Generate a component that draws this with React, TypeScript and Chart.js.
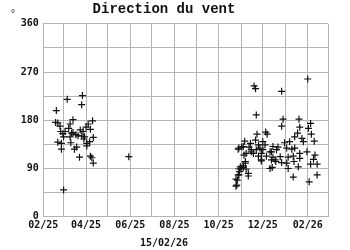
import React, { useEffect, useRef } from 'react';
import { Chart, registerables } from 'chart.js';

Chart.register(...registerables);

const TITLE = 'Direction du vent';
const SUBTITLE = '15/02/26';
const UNIT = '°';
const START = '2025-02-01';
const END = '2026-03-01';
const Y_MAX = 360;
const Y_STEP = 45;
const Y_LABEL_EVERY = 90;

const springDates = [
  '2025-02-18', '2025-02-19', '2025-02-21', '2025-02-21', '2025-02-24', '2025-02-25',
  '2025-02-26', '2025-02-26', '2025-02-28', '2025-03-01', '2025-03-01', '2025-03-03',
  '2025-03-06', '2025-03-08', '2025-03-10', '2025-03-10', '2025-03-11', '2025-03-12',
  '2025-03-14', '2025-03-14', '2025-03-16', '2025-03-18', '2025-03-19', '2025-03-21',
  '2025-03-23', '2025-03-24', '2025-03-26', '2025-03-26', '2025-03-27', '2025-03-28',
  '2025-03-29', '2025-03-30', '2025-04-01', '2025-04-02', '2025-04-02', '2025-04-04',
  '2025-04-06', '2025-04-07', '2025-04-07', '2025-04-09', '2025-04-10', '2025-04-11',
  '2025-04-11', '2025-05-30',
];
const springValues = [
  176, 198, 175, 139, 169, 159,
  137, 126, 155, 149, 50, 159,
  219, 165, 173, 149, 138, 156,
  181, 157, 126, 153, 130, 151,
  111, 162, 151, 209, 226, 159,
  145, 149, 167, 137, 132, 173,
  140, 163, 113, 110, 179, 148,
  100, 112,
];

const winterDates = [
  '2025-10-25', '2025-10-25', '2025-10-26', '2025-10-27', '2025-10-28', '2025-10-28',
  '2025-10-29', '2025-10-29', '2025-10-29', '2025-10-30', '2025-10-31', '2025-11-01',
  '2025-11-02', '2025-11-04', '2025-11-04', '2025-11-04', '2025-11-05', '2025-11-06',
  '2025-11-07', '2025-11-07', '2025-11-08', '2025-11-08', '2025-11-11', '2025-11-11',
  '2025-11-12', '2025-11-14', '2025-11-15', '2025-11-15', '2025-11-18', '2025-11-19',
  '2025-11-21', '2025-11-21', '2025-11-22', '2025-11-22', '2025-11-23', '2025-11-25',
  '2025-11-25', '2025-11-27', '2025-11-29', '2025-11-29', '2025-11-29', '2025-12-01',
  '2025-12-01', '2025-12-04', '2025-12-05', '2025-12-06', '2025-12-07', '2025-12-11',
  '2025-12-11', '2025-12-13', '2025-12-13', '2025-12-14', '2025-12-15', '2025-12-15',
  '2025-12-18', '2025-12-19', '2025-12-20', '2025-12-22', '2025-12-25', '2025-12-27',
  '2025-12-27', '2025-12-27', '2025-12-29', '2025-12-31', '2026-01-03', '2026-01-03',
  '2026-01-05', '2026-01-05', '2026-01-07', '2026-01-10', '2026-01-12', '2026-01-12',
  '2026-01-13', '2026-01-14', '2026-01-14', '2026-01-18', '2026-01-19', '2026-01-20',
  '2026-01-21', '2026-01-21', '2026-01-21', '2026-01-24', '2026-01-26', '2026-01-31',
  '2026-02-01', '2026-02-02', '2026-02-03', '2026-02-05', '2026-02-05', '2026-02-06',
  '2026-02-09', '2026-02-10', '2026-02-11', '2026-02-14', '2026-02-14',
];
const winterValues = [
  70, 57, 59, 68, 78, 126,
  128, 89, 78, 84, 93, 90,
  130, 92, 95, 131, 115, 141,
  103, 100, 89, 118, 76, 81,
  130, 137, 125, 121, 118, 244,
  239, 143, 190, 125, 154, 113,
  134, 128, 106, 118, 104, 140,
  125, 134, 158, 113, 154, 121,
  90, 106, 121, 92, 131, 111,
  106, 103, 125, 130, 112, 234,
  169, 101, 182, 138, 128, 100,
  111, 90, 140, 126, 113, 74,
  103, 149, 128, 156, 93, 182,
  167, 118, 109, 146, 140, 121,
  257, 165, 65, 174, 98, 154,
  107, 141, 115, 98, 78,
];

const DAY = 86400000;
const t0 = Date.parse(START);
const toDay = (d: string) => (Date.parse(d) - t0) / DAY;

function monthTicks() {
  const res: { value: number; label: string }[] = [];
  const s = new Date(START);
  const e = Date.parse(END);
  let y = s.getUTCFullYear();
  let m = s.getUTCMonth();
  while (true) {
    const t = Date.UTC(y, m, 1);
    if (t > e) break;
    const mm = String(m + 1).padStart(2, '0');
    const yy = String(y % 100).padStart(2, '0');
    res.push({ value: (t - t0) / DAY, label: m % 2 === 1 ? `${mm}/${yy}` : '' });
    m++;
    if (m > 11) { m = 0; y++; }
  }
  return res;
}

const unitPlugin = {
  id: 'unitLabel',
  afterDraw(chart: any) {
    const ctx = chart.ctx;
    ctx.save();
    ctx.fillStyle = '#333';
    ctx.font = '10px "DejaVu Sans"';
    ctx.textAlign = 'center';
    ctx.textBaseline = 'middle';
    ctx.fillText(UNIT, 13, 14);
    ctx.restore();
  },
};

export default function App() {
  const ref = useRef<HTMLCanvasElement | null>(null);
  useEffect(() => {
    document.body.style.margin = '0';
    const months = monthTicks();
    const pts = [
      ...springDates.map((d, i) => ({ x: toDay(d), y: springValues[i] })),
      ...winterDates.map((d, i) => ({ x: toDay(d), y: winterValues[i] })),
    ];
    const tickFont = { family: '"DejaVu Sans Mono"', size: 10, weight: 'bold' as const };
    const grid = '#b4b4b4';
    const chart = new Chart(ref.current!, {
      type: 'scatter',
      data: {
        datasets: [
          {
            data: pts,
            pointStyle: 'cross',
            pointRadius: 3.5,
            pointHoverRadius: 3.5,
            borderColor: '#111',
            backgroundColor: '#111',
            pointBorderWidth: 1.2,
          },
        ],
      },
      options: {
        responsive: false,
        animation: false,
        layout: { padding: { left: 0, right: 22, top: 0, bottom: 0 } },
        plugins: {
          legend: { display: false },
          tooltip: { enabled: false },
          title: {
            display: true,
            text: TITLE,
            color: '#111',
            font: { family: '"Liberation Mono"', size: 14, weight: 'bold' },
            padding: { top: 1, bottom: 6 },
          },
          subtitle: {
            display: true,
            position: 'bottom',
            text: SUBTITLE,
            color: '#111',
            font: tickFont,
            padding: { top: 0, bottom: 1 },
          },
        },
        scales: {
          x: {
            type: 'linear',
            min: 0,
            max: toDay(END),
            afterBuildTicks: (scale: any) => {
              scale.ticks = months.map((m) => ({ value: m.value }));
            },
            afterFit: (scale: any) => {
              scale.height = 20.3;
            },
            ticks: {
              autoSkip: false,
              maxRotation: 0,
              padding: 3,
              color: '#111',
              font: tickFont,
              callback: (_v: any, i: number) => months[i]?.label ?? '',
            },
            grid: { color: grid, drawTicks: false, lineWidth: 1 },
            border: { color: grid },
          },
          y: {
            min: 0,
            max: Y_MAX,
            afterFit: (scale: any) => {
              scale.width = 43.3;
            },
            ticks: {
              stepSize: Y_STEP,
              padding: 4.5,
              color: '#111',
              font: tickFont,
              callback: (v: any) => (Number(v) % Y_LABEL_EVERY === 0 ? String(v) : ''),
            },
            grid: { color: grid, drawTicks: false, lineWidth: 1 },
            border: { color: grid },
          },
        },
      },
      plugins: [unitPlugin],
    });
    return () => chart.destroy();
  }, []);
  return <canvas ref={ref} width={350} height={250} style={{ display: 'block' }} />;
}
